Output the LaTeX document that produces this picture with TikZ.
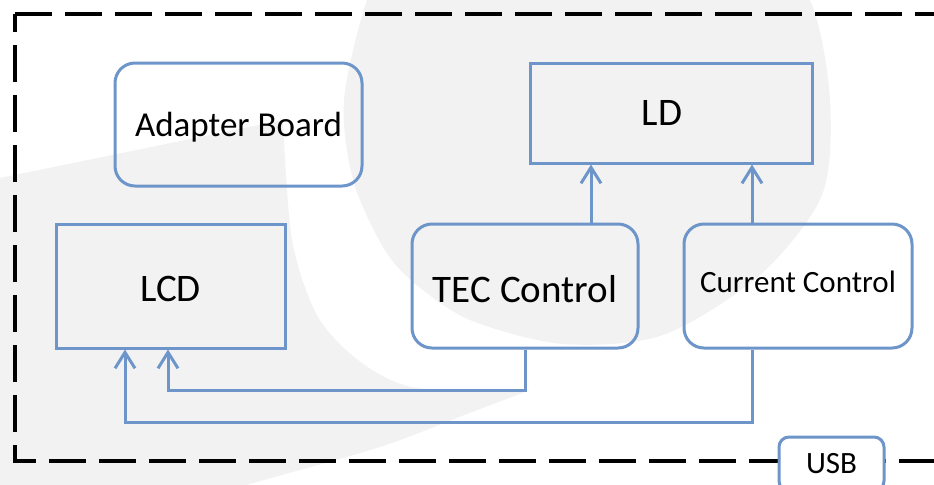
\documentclass[tikz,border=0pt]{standalone}
\usepackage{fontspec}
\setmainfont{Carlito}
\usetikzlibrary{arrows.meta}
\definecolor{boxblue}{RGB}{109,149,201}
\definecolor{wmgray}{RGB}{242,242,242}

\begin{document}
\begin{tikzpicture}[x=0.5pt, y=-0.5pt,
block/.style={rectangle, draw=boxblue, line width=1.5pt, text=black},
roundblock/.style={block, rounded corners=10pt},
bigtext/.style={font=\fontsize{19.5}{22}\selectfont},
midtext/.style={font=\fontsize{17.5}{20}\selectfont},
smalltext/.style={font=\fontsize{15.5}{18}\selectfont},
link/.style={draw=boxblue, line width=1.5pt, -{Straight Barb[length=8pt,width=10pt]}},
border/.style={draw=black, line width=2pt, dash pattern=on 18.5pt off 6.5pt},
]
\useasboundingbox (0,0) rectangle (934,484);

% watermark and dashed frame
\begin{scope}
\clip (0,0) rectangle (934,484);
\fill[wmgray] plot[smooth cycle] coordinates {(400,-60) (367,0) (344,100) (353,180) (383,247) (413,282) (470,320) (563,344) (663,335) (760,275) (822,195) (830,100) (810,0) (750,-80) (590,-130) (470,-110)};
\fill[wmgray] (0,178) -- plot[smooth] coordinates {(283,120) (292,240) (318,317) (362,363) (417,388) (530,390)}
    -- plot[smooth] coordinates {(530,390) (467,414) (380,447) (250,484) (200,500)} -- (0,500) -- cycle;
\draw[border] (15,14) -- (950,14);
\draw[border, dash phase=9.5pt] (15,14) -- (15,461) -- (950,461);
\end{scope}

\node[roundblock, midtext, text depth=0pt, minimum width=123.5pt, minimum height=61.5pt] (adapter) at (238.5,124.5) {Adapter Board};
\node[block, bigtext, minimum width=141pt, minimum height=50pt] (ld) at (671,113) {\kern-9pt LD};
\node[block, bigtext, text height=16pt, minimum width=114.5pt, minimum height=62pt] (lcd) at (170.5,286) {LCD};
\node[roundblock, bigtext, text height=16.5pt, minimum width=113pt, minimum height=62pt] (tec) at (525,286) {TEC Control};
\node[roundblock, smalltext, text depth=4pt, minimum width=114pt, minimum height=62pt] (cur) at (798,286) {Current Control};
\node[roundblock, smalltext, fill=white, rounded corners=5pt, minimum width=52.5pt, minimum height=27pt] (usb) at (831.5,464) {USB};

\draw[link] ([xshift=33pt]tec.north) -- ([xshift=33pt]tec.north |- ld.south);
\draw[link] ([xshift=-23pt]cur.north) -- ([xshift=-23pt]cur.north |- ld.south);
\draw[link] (tec.south) -- ++(0,41) -| ([xshift=-1.25pt]lcd.south);
\draw[link] ([xshift=-23pt]cur.south) -- ++(0,73) -| ([xshift=-22.75pt]lcd.south);
\end{tikzpicture}
\end{document}
